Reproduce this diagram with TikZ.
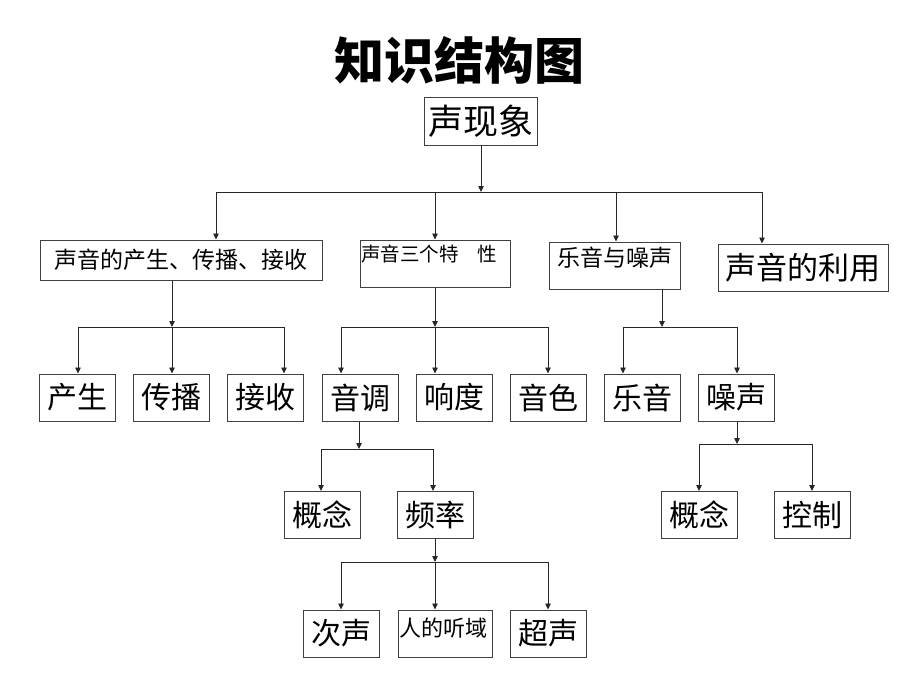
\documentclass[tikz,border=0pt]{standalone}
\usepackage{fontspec}
\newfontfamily\cjk{Noto Sans CJK SC}
\usetikzlibrary{arrows.meta}
\tikzset{
  box/.style={draw=black!75, line width=1pt, inner sep=0pt, minimum width=76pt, minimum height=47pt,
    font=\cjk\fontsize{30}{30}\selectfont},
  conn/.style={draw=black!85, line width=0.8pt},
  arr/.style={conn, -{Triangle[length=6pt,width=5.5pt]}},
}
\begin{document}
\begin{tikzpicture}[x=1pt,y=-1pt]
\useasboundingbox (0,0) rectangle (920,690);
% title
\node[font=\cjk\bfseries\fontsize{50}{50}\selectfont, inner sep=0pt] (title) at (459,60) {知识结构图};
% level 1
\node[box, minimum width=113pt, font=\cjk\fontsize{35}{35}\selectfont] (n0) at (480.5,121.5) {声现象};
% level 2
\node[box, minimum width=282pt, minimum height=40pt, font=\cjk\fontsize{23}{23}\selectfont] (a1) at (181,260) {声音的产生、传播、接收};
\node[box, minimum width=150pt, minimum height=0pt,
  text height=21pt, text depth=26pt, font=\cjk\fontsize{19.5}{19.5}\selectfont] (a2) at (435,263.5)
  {\makebox[148pt][l]{声音三个特\hspace{19pt}性}};
\node[box, minimum width=131pt, minimum height=0pt, text height=24.5pt, text depth=22.5pt,
  font=\cjk\fontsize{23}{23}\selectfont] (a3) at (614.5,265.5) {乐音与噪声};
\node[box, minimum width=170pt, font=\cjk\fontsize{31}{31}\selectfont] (a4) at (803,267.5) {声音的利用};
% level 3
\node[box] (b1) at (77,397.5) {产生};
\node[box] (b2) at (171.5,397.5) {传播};
\node[box] (b3) at (265.5,397.5) {接收};
\node[box] (b4) at (360,397.5) {音调};
\node[box] (b5) at (454,397.5) {响度};
\node[box] (b6) at (548.5,397.5) {音色};
\node[box] (b7) at (642.5,397.5) {乐音};
\node[box] (b8) at (736.5,397.5) {噪声};
% level 4
\node[box] (c1) at (322,515) {概念};
\node[box] (c2) at (435.5,515) {频率};
\node[box] (c3) at (699,515) {概念};
\node[box] (c4) at (812,515) {控制};
% level 5
\node[box] (d1) at (341,633.5) {次声};
\node[box, minimum width=94pt, minimum height=0pt,
  text height=26.5pt, text depth=20.5pt, font=\cjk\fontsize{22}{22}\selectfont] (d2) at (445,633.5)
  {\makebox[92pt][l]{人的听域}};
\node[box] (d3) at (548.5,633.5) {超声};

% group n0
\coordinate (j0) at (481,192);
\coordinate (p01) at (216,192);
\coordinate (p02) at (435,192);
\coordinate (p03) at (616,192);
\coordinate (p04) at (762,192);
\draw[arr] (n0.south -| j0) -- (j0);
\draw[conn] (p01) -- (p04);
\draw[arr] (p01) -- (p01 |- a1.north);
\draw[arr] (p02) -- (p02 |- a2.north);
\draw[arr] (p03) -- (p03 |- a3.north);
\draw[arr] (p04) -- (p04 |- a4.north);

% group a1
\coordinate (j1) at (172,327);
\coordinate (p11) at (78,327);
\coordinate (p12) at (172,327);
\coordinate (p13) at (284,327);
\draw[arr] (a1.south -| j1) -- (j1);
\draw[conn] (p11) -- (p13);
\draw[arr] (p11) -- (p11 |- b1.north);
\draw[arr] (p12) -- (p12 |- b2.north);
\draw[arr] (p13) -- (p13 |- b3.north);

% group a2
\coordinate (j2) at (435,327);
\coordinate (p21) at (341,327);
\coordinate (p22) at (435,327);
\coordinate (p23) at (548,327);
\draw[arr] (a2.south -| j2) -- (j2);
\draw[conn] (p21) -- (p23);
\draw[arr] (p21) -- (p21 |- b4.north);
\draw[arr] (p22) -- (p22 |- b5.north);
\draw[arr] (p23) -- (p23 |- b6.north);

% group a3
\coordinate (j3) at (662,327);
\coordinate (p31) at (623,327);
\coordinate (p32) at (737,327);
\draw[arr] (a3.south -| j3) -- (j3);
\draw[conn] (p31) -- (p32);
\draw[arr] (p31) -- (p31 |- b7.north);
\draw[arr] (p32) -- (p32 |- b8.north);

% group b4
\coordinate (j4) at (359,449);
\coordinate (p41) at (321,449);
\coordinate (p42) at (433,449);
\draw[arr] (b4.south -| j4) -- (j4);
\draw[conn] (p41) -- (p42);
\draw[arr] (p41) -- (p41 |- c1.north);
\draw[arr] (p42) -- (p42 |- c2.north);

% group b8
\coordinate (j8) at (737,444);
\coordinate (p81) at (699,444);
\coordinate (p82) at (812,444);
\draw[arr] (b8.south -| j8) -- (j8);
\draw[conn] (p81) -- (p82);
\draw[arr] (p81) -- (p81 |- c3.north);
\draw[arr] (p82) -- (p82 |- c4.north);

% group c2
\coordinate (jc) at (435,562);
\coordinate (pc1) at (341,562);
\coordinate (pc2) at (435,562);
\coordinate (pc3) at (548,562);
\draw[arr] (c2.south -| jc) -- (jc);
\draw[conn] (pc1) -- (pc3);
\draw[arr] (pc1) -- (pc1 |- d1.north);
\draw[arr] (pc2) -- (pc2 |- d2.north);
\draw[arr] (pc3) -- (pc3 |- d3.north);
\end{tikzpicture}
\end{document}
